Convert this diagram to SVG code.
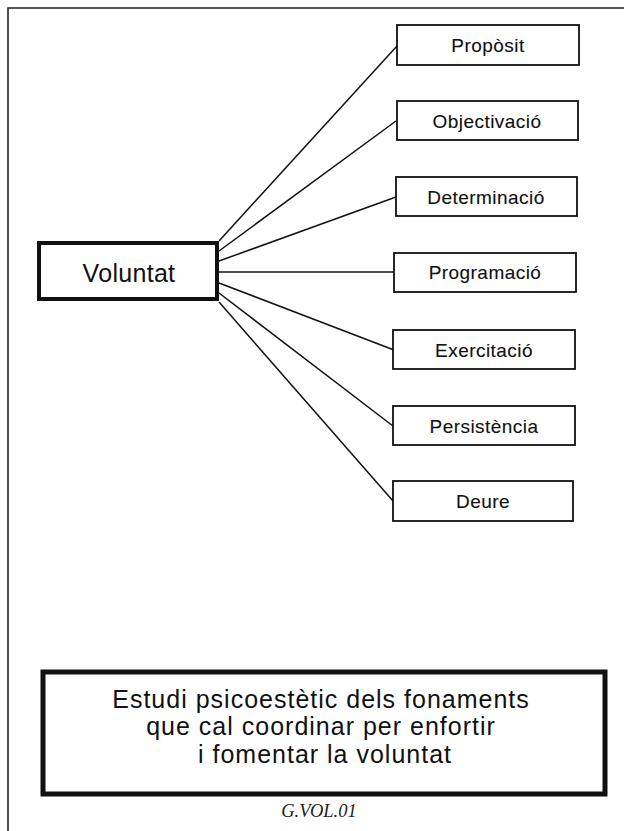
<svg xmlns="http://www.w3.org/2000/svg" width="624" height="831" viewBox="0 0 624 831">
<style>
.box{fill:#fff;stroke:#111;stroke-width:1.8}
.lbl{font-family:"Liberation Sans",Arial,sans-serif;font-size:19px;letter-spacing:0.45px;fill:#111;stroke:#111;stroke-width:0.12;text-anchor:middle}
.con line{stroke:#111;stroke-width:1.5}
</style>
<rect width="624" height="831" fill="#fff"/>
<path d="M8,831 V8 H624" fill="none" stroke="#222" stroke-width="1.6"/>
<g id="connectors" class="con">
<line x1="219" y1="241" x2="397" y2="46"/>
<line x1="219" y1="251" x2="396" y2="121"/>
<line x1="219" y1="261" x2="396" y2="197"/>
<line x1="219" y1="272" x2="395" y2="272"/>
<line x1="219" y1="283" x2="394" y2="350"/>
<line x1="219" y1="293" x2="393" y2="426"/>
<line x1="219" y1="302" x2="393" y2="501"/>
</g>
<g id="voluntat">
<rect x="39" y="243" width="178" height="56" fill="#fff" stroke="#111" stroke-width="4"/>
<text x="129" y="282" font-family="Liberation Sans, Arial, sans-serif" font-size="25" letter-spacing="0.3" fill="#111" text-anchor="middle">Voluntat</text>
</g>
<g id="proposit"><rect class="box" x="397" y="25" width="182" height="40"/><text class="lbl" x="488" y="52">Propòsit</text></g>
<g id="objectivacio"><rect class="box" x="397" y="101" width="181" height="39"/><text class="lbl" x="487" y="127.5">Objectivació</text></g>
<g id="determinacio"><rect class="box" x="396" y="177" width="181" height="39"/><text class="lbl" x="486" y="203.5">Determinació</text></g>
<g id="programacio"><rect class="box" x="394" y="253" width="182" height="39"/><text class="lbl" x="485" y="279">Programació</text></g>
<g id="exercitacio"><rect class="box" x="393" y="330" width="182" height="39"/><text class="lbl" x="484" y="357">Exercitació</text></g>
<g id="persistencia"><rect class="box" x="393" y="406" width="182" height="39"/><text class="lbl" x="484" y="432.5">Persistència</text></g>
<g id="deure"><rect class="box" x="393" y="481" width="180" height="40"/><text class="lbl" x="483" y="508">Deure</text></g>
<g id="estudi">
<rect x="43" y="672" width="562" height="122" fill="#fff" stroke="#111" stroke-width="5"/>
<text font-family="Liberation Sans, Arial, sans-serif" font-size="25" letter-spacing="1" fill="#111" text-anchor="middle">
<tspan x="325" y="708">Estudi psicoestètic dels fonaments</tspan>
<tspan x="325" y="735">que cal coordinar per enfortir</tspan>
<tspan x="325" y="763">i fomentar la voluntat</tspan>
</text>
</g>
<text id="code" x="319" y="817" font-family="Liberation Serif, 'Times New Roman', serif" font-size="18.5" font-style="italic" fill="#222" text-anchor="middle">G.VOL.01</text>
</svg>
